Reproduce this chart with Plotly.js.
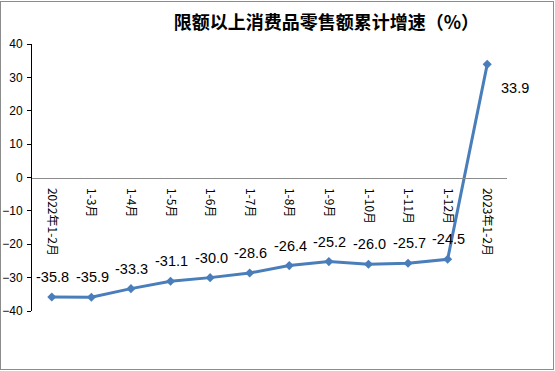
<!DOCTYPE html>
<html>
<head>
<meta charset="utf-8">
<script src="https://cdn.plot.ly/plotly-3.0.1.min.js"></script>
<style>
html,body{margin:0;padding:0;background:#fff;}
#chart{position:absolute;left:0;top:0;width:555px;height:371px;}
#frame{position:absolute;left:0;top:1px;width:552px;height:367px;border:1px solid #8c8c8c;pointer-events:none;}
</style>
</head>
<body>
<div id="chart"></div>
<div id="frame"></div>
<script>
const categories = ["2022年1-2月","1-3月","1-4月","1-5月","1-6月","1-7月","1-8月","1-9月","1-10月","1-11月","1-12月","2023年1-2月"];
const growth = [-35.8,-35.9,-33.3,-31.1,-30.0,-28.6,-26.4,-25.2,-26.0,-25.7,-24.5,33.9];
const valueLabels = ["-35.8","-35.9","-33.3","-31.1","-30.0","-28.6","-26.4","-25.2","-26.0","-25.7","-24.5","33.9"];

const annotations = categories.map((c, i) => {
  const last = i === categories.length - 1;
  return {
    x: c, y: growth[i], xref: 'x', yref: 'y',
    text: valueLabels[i], showarrow: false,
    xshift: last ? 28 : 1, yshift: last ? -24 : 20,
    font: {family: 'Liberation Sans, Arial, sans-serif', size: 14.5, color: '#000'}
  };
});

const trace = {
  x: categories, y: growth, type: 'scatter', mode: 'lines+markers',
  line: {color: '#4a7ebb', width: 3},
  marker: {symbol: 'diamond', size: 7, color: '#4a7ebb'},
  hoverinfo: 'skip'
};

const layout = {
  width: 555, height: 371,
  margin: {l: 32, r: 47.5, t: 43.5, b: 59.5, pad: 0},
  paper_bgcolor: '#fff', plot_bgcolor: '#fff',
  showlegend: false,
  title: {
    text: '<b>限额以上消费品零售额累计增速（%）</b>',
    x: 0.588, xanchor: 'center', y: 0.94, yanchor: 'middle',
    font: {family: 'Noto Sans CJK SC, sans-serif', size: 18, color: '#000'}
  },
  xaxis: {
    type: 'category', range: [-0.5, 11.5],
    anchor: 'free', position: 0.5,
    showline: true, linecolor: '#8c8c8c', linewidth: 1,
    showgrid: false, zeroline: false, ticks: '',
    tickangle: 90, ticklabelstandoff: 7,
    tickfont: {family: 'Noto Sans CJK SC, Liberation Sans, sans-serif', size: 12, color: '#000'}
  },
  yaxis: {
    range: [-40, 40], dtick: 10, tick0: 0,
    showline: true, linecolor: '#000', linewidth: 1,
    ticks: 'outside', ticklen: 4, tickcolor: '#000',
    showgrid: false, zeroline: false, ticklabelstandoff: 2,
    tickfont: {family: 'Liberation Sans, Arial, sans-serif', size: 12, color: '#000'}
  },
  annotations: annotations
};

Plotly.newPlot('chart', [trace], layout, {staticPlot: true, displayModeBar: false});
</script>
</body>
</html>
